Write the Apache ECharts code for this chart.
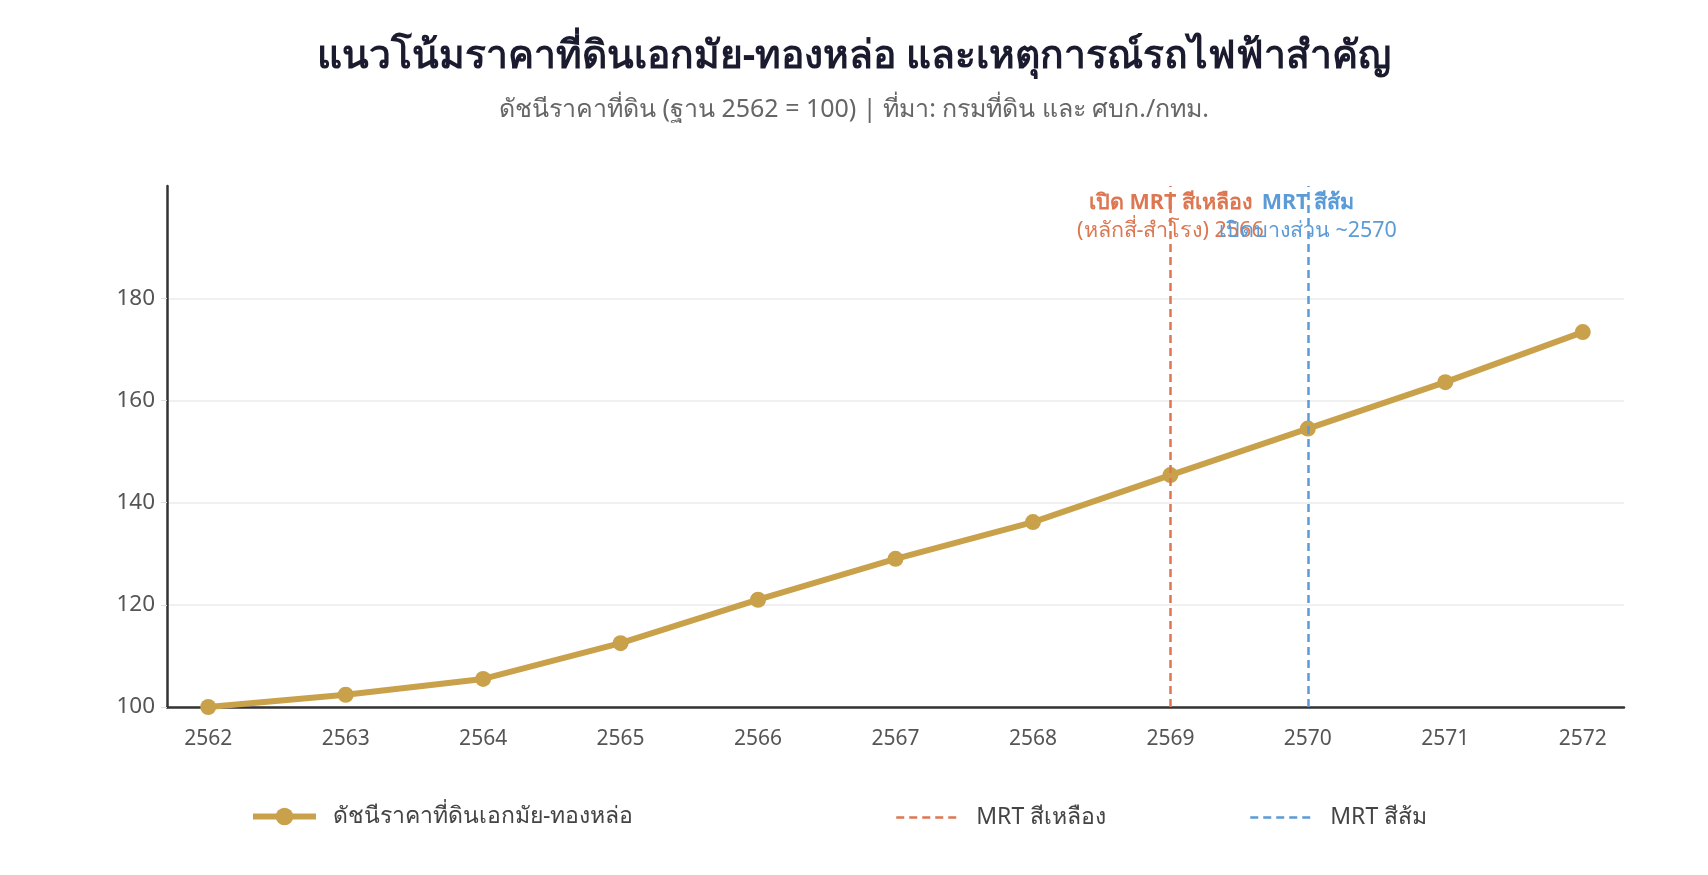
<!DOCTYPE html>
<html>
<head>
<meta charset="utf-8">
<script src="https://cdn.jsdelivr.net/npm/echarts@6/dist/echarts.min.js"></script>
<style>
  html, body { margin: 0; padding: 0; background: #fff; }
  #chart { width: 1708px; height: 875px; }
</style>
</head>
<body>
<div id="chart"></div>
<script>
// ข้อมูลดัชนีราคาที่ดิน (ฐาน 2562 = 100)
const years = [2562, 2563, 2564, 2565, 2566, 2567, 2568, 2569, 2570, 2571, 2572];
const priceIndex = [100, 102.4, 105.5, 112.5, 121, 129, 136.2, 145.4, 154.5, 163.6, 173.4];
const yTicks = [100, 120, 140, 160, 180];

const eventNames = ['MRT สีเหลือง', 'MRT สีส้ม'];
const eventYears = [2569, 2570];
const eventTitles = ['เปิด MRT สีเหลือง', 'MRT สีส้ม'];
const eventNotes = ['(หลักสี่-สำโรง) 2566', 'เปิดบางส่วน ~2570'];
const eventColors = ['#DC7752', '#5B9BD8'];
const eventLabelY = 196;

const FONT = '"Noto Sans", "Open Sans", sans-serif';
const lineColor = '#C9A14A';

const chart = echarts.init(document.getElementById('chart'));

const eventSeries = eventNames.map((name, i) => ({
  name: name,
  type: 'line',
  data: [],
  symbol: 'none',
  lineStyle: { color: eventColors[i], width: 2.5, type: [8, 5] },
  itemStyle: { color: eventColors[i] },
  markLine: {
    silent: true,
    symbol: 'none',
    label: { show: false },
    lineStyle: { color: eventColors[i], width: 2.5, type: [8, 5] },
    data: [{ xAxis: eventYears[i] }],
  },
  markPoint: {
    silent: true,
    symbol: 'circle',
    symbolSize: 0,
    label: {
      show: true,
      position: 'inside',
      formatter: `{t|${eventTitles[i]}}\n{s|${eventNotes[i]}}`,
      rich: {
        t: { fontFamily: FONT, fontSize: 21.5, fontWeight: 'bold', color: eventColors[i], lineHeight: 28, align: 'center' },
        s: { fontFamily: FONT, fontSize: 21.5, color: eventColors[i], lineHeight: 28, align: 'center' },
      },
    },
    data: [{ coord: [eventYears[i], eventLabelY] }],
  },
}));

const legendBase = {
  padding: 0,
  itemWidth: 63,
  itemHeight: 17,
  textStyle: { fontFamily: FONT, fontSize: 23, color: '#444', padding: [0, 0, 0, 12] },
};

const option = {
  backgroundColor: '#fff',
  title: {
    text: 'แนวโน้มราคาที่ดินเอกมัย-ทองหล่อ และเหตุการณ์รถไฟฟ้าสำคัญ',
    subtext: 'ดัชนีราคาที่ดิน (ฐาน 2562 = 100) | ที่มา: กรมที่ดิน และ ศบก./กทม.',
    left: 'center',
    top: 32,
    itemGap: 21,
    textStyle: { fontFamily: FONT, fontSize: 39, fontWeight: 'bold', color: '#1B1B2F' },
    subtextStyle: { fontFamily: FONT, fontSize: 25, color: '#666' },
  },
  legend: [
    Object.assign({}, legendBase, {
      left: 250,
      top: 805,
      itemHeight: 22,
      data: [{ name: 'ดัชนีราคาที่ดินเอกมัย-ทองหล่อ', lineStyle: { width: 6 } }],
    }),
    Object.assign({}, legendBase, {
      left: 895,
      top: 806,
      data: [{ name: eventNames[0], itemStyle: { opacity: 0 }, lineStyle: { width: 2.5 } }],
    }),
    Object.assign({}, legendBase, {
      left: 1249,
      top: 806,
      data: [{ name: eventNames[1], itemStyle: { opacity: 0 }, lineStyle: { width: 2.5 } }],
    }),
  ],
  grid: { left: 167, right: 84, top: 186, bottom: 168 },
  xAxis: {
    type: 'value',
    min: 2561.7,
    max: 2572.3,
    splitLine: { show: false },
    axisLine: { show: true, lineStyle: { color: '#333', width: 2.5 } },
    axisTick: { show: false, customValues: years },
    axisLabel: {
      customValues: years,
      fontFamily: FONT, fontSize: 21, color: '#555', margin: 22,
      formatter: (v) => String(v),
    },
  },
  yAxis: {
    type: 'value',
    min: 100,
    max: 202,
    axisLine: { show: true, lineStyle: { color: '#333', width: 2.5 } },
    axisTick: { show: true, length: 6, customValues: yTicks, lineStyle: { color: '#ddd' } },
    axisLabel: {
      customValues: yTicks,
      fontFamily: FONT, fontSize: 22.5, color: '#555', margin: 12,
    },
    splitLine: { show: true, lineStyle: { color: '#ebebeb', width: 1.5 } },
  },
  series: [
    {
      name: 'ดัชนีราคาที่ดินเอกมัย-ทองหล่อ',
      type: 'line',
      data: years.map((y, i) => [y, priceIndex[i]]),
      symbol: 'circle',
      symbolSize: 16,
      lineStyle: { color: lineColor, width: 6 },
      itemStyle: { color: lineColor },
      z: 3,
    },
    ...eventSeries,
  ],
};

chart.setOption(option);
window.addEventListener('resize', chart.resize);
</script>
</body>
</html>
